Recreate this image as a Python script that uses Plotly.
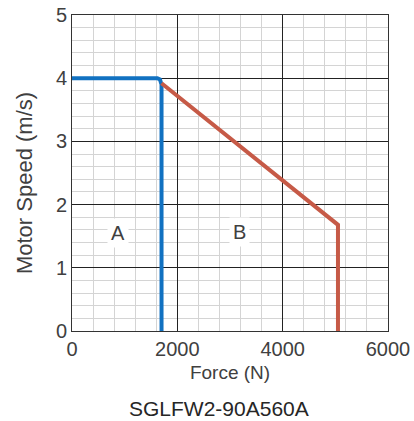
import plotly.graph_objects as go

# Data
blue_force = [0, 1620, 1670, 1695, 1700, 1700]
blue_speed = [4.0, 4.0, 3.98, 3.94, 3.9, 0.0]
red_force = [1700, 5050, 5050]
red_speed = [3.92, 1.68, 0.0]
region_labels = ["A", "B"]
region_x = [873, 3188]
region_y = [1.55, 1.57]
x_ticks = [0, 2000, 4000, 6000]
y_ticks = [0, 1, 2, 3, 4, 5]

TXT = "#404040"

fig = go.Figure()
fig.add_trace(go.Scatter(x=blue_force, y=blue_speed, mode="lines",
                         line=dict(color="#1171c1", width=4), hoverinfo="skip"))
fig.add_trace(go.Scatter(x=red_force, y=red_speed, mode="lines",
                         line=dict(color="#c65a47", width=4), hoverinfo="skip"))

for t, x, y in zip(region_labels, region_x, region_y):
    fig.add_annotation(x=x, y=y, text=t, showarrow=False, bgcolor="white",
                       font=dict(size=20, color=TXT), borderpad=3)

fig.add_annotation(x=0.465, y=-0.244, xref="paper", yref="paper", yanchor="middle",
                   text="SGLFW2-90A560A", showarrow=False,
                   font=dict(size=21, color="#262626"))

# y-axis title as rotated annotation (positioned slightly below plot centre as in reference)
fig.add_annotation(x=-0.152, y=0.468, xref="paper", yref="paper",
                   xanchor="center", yanchor="middle", textangle=-90,
                   text="Motor Speed (m/s)", showarrow=False,
                   font=dict(size=22, color=TXT))

axis_common = dict(showline=True, linecolor="#333", linewidth=1, mirror=True,
                   gridcolor="#222", gridwidth=1, zeroline=False, automargin=False,
                   ticks="", tickfont=dict(size=20, color=TXT))

fig.update_xaxes(range=[0, 6000], tickvals=x_ticks, **axis_common,
                 minor=dict(dtick=400, showgrid=True, gridcolor="#d4d4d4", gridwidth=1),
                 title=dict(text="Force (N)", font=dict(size=19, color=TXT), standoff=6))
fig.update_yaxes(range=[0, 5], tickvals=y_ticks, **axis_common,
                 minor=dict(dtick=0.2, showgrid=True, gridcolor="#d4d4d4", gridwidth=1))

fig.update_layout(width=414, height=421, margin=dict(l=72, r=26, t=15, b=90),
                  plot_bgcolor="white", paper_bgcolor="white", showlegend=False,
                  font=dict(family="Liberation Sans, Arial, sans-serif"))

fig.write_html("out.html", config={"displayModeBar": False})
